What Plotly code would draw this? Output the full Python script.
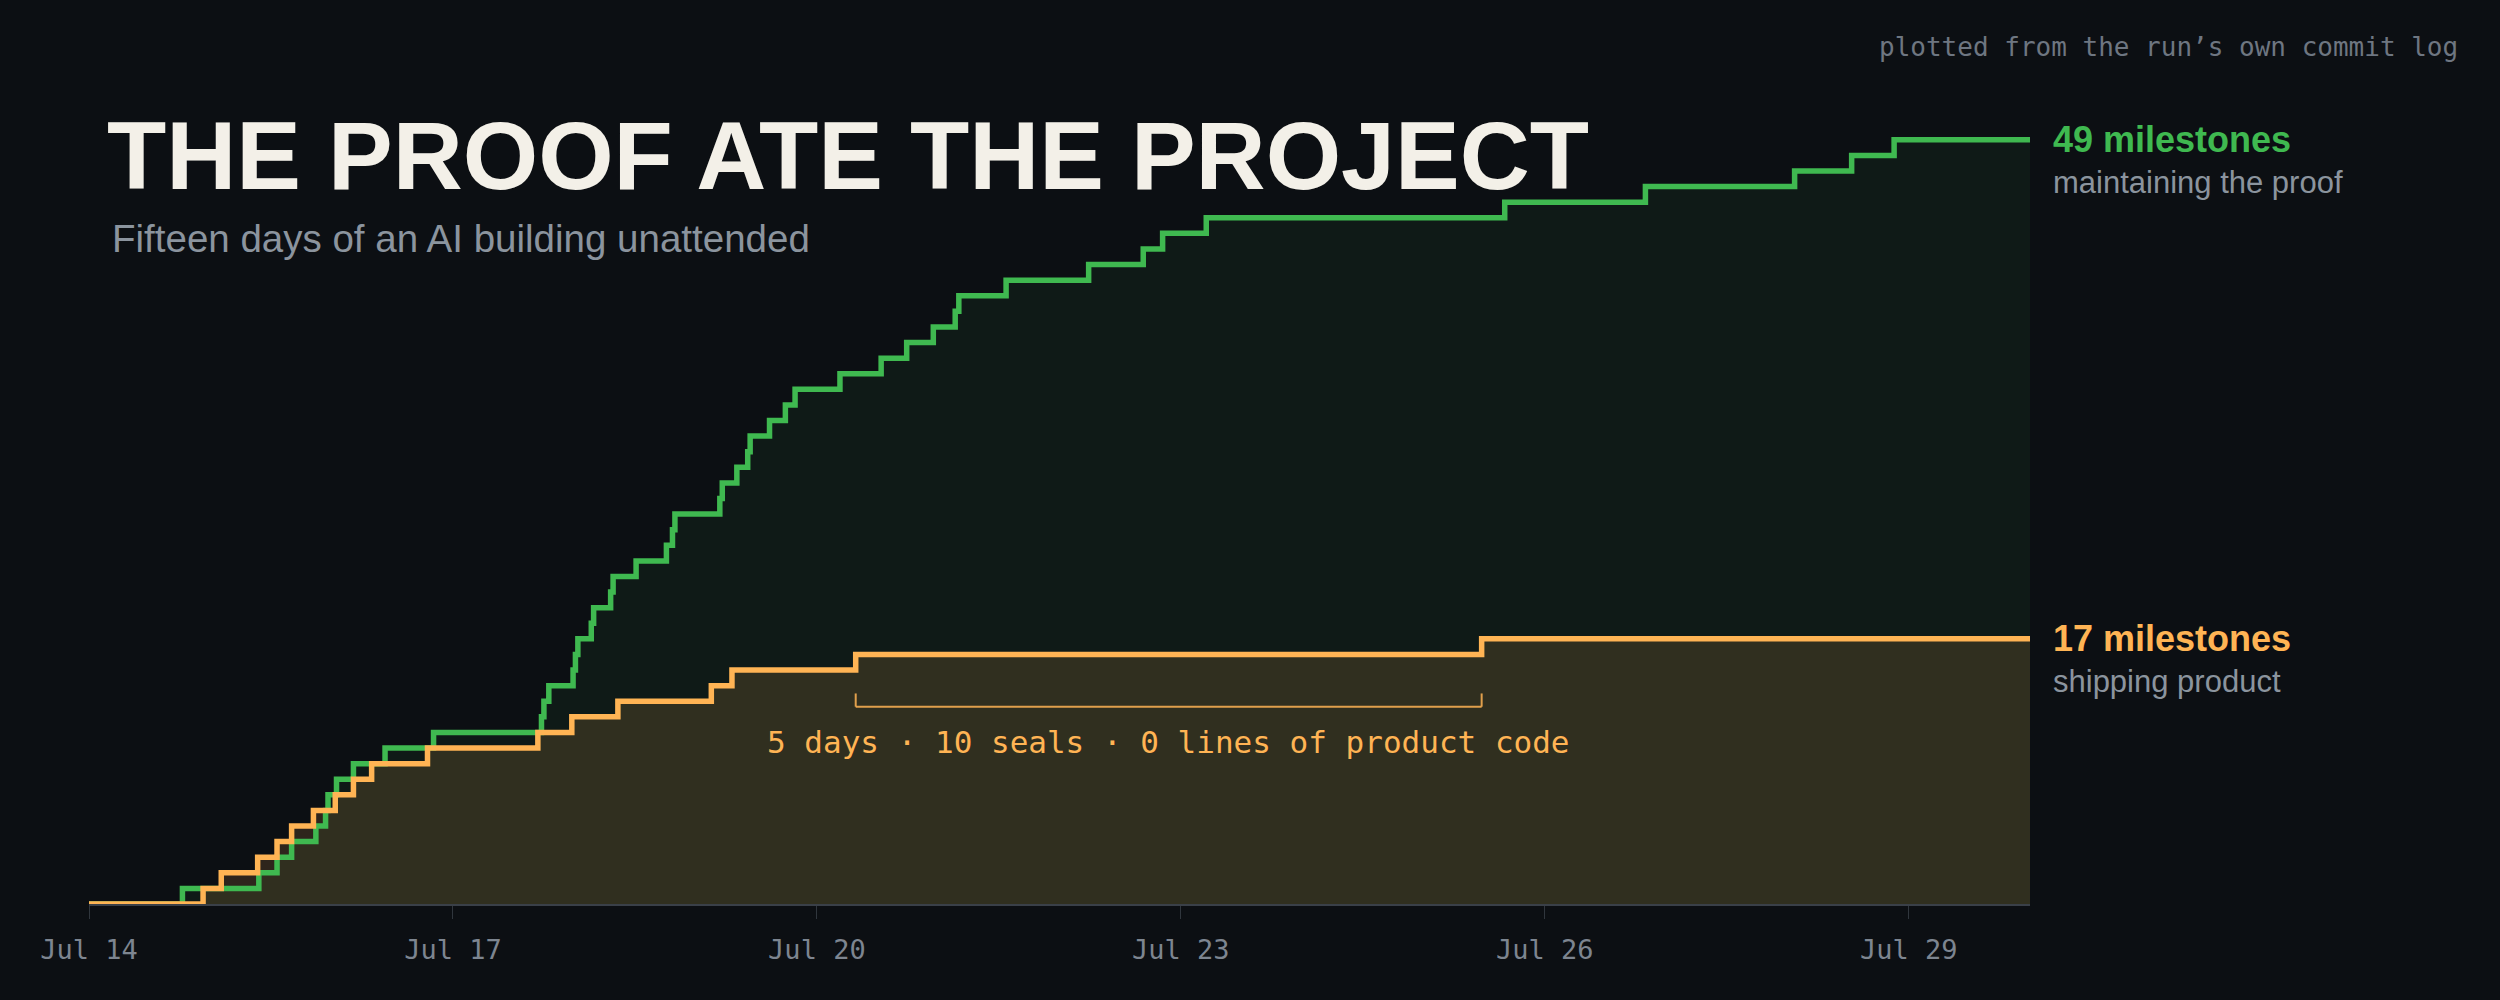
import plotly.graph_objects as go
import pandas as pd

# ---- data ----
GREEN_TIMES = [
    "2025-07-14 00:00", "2025-07-14 18:29", "2025-07-15 09:36", "2025-07-15 13:12",
    "2025-07-15 16:05", "2025-07-15 20:53", "2025-07-15 22:48", "2025-07-15 23:17",
    "2025-07-16 00:58", "2025-07-16 04:19", "2025-07-16 10:34", "2025-07-16 20:10",
    "2025-07-17 17:31", "2025-07-17 18:00", "2025-07-17 18:58", "2025-07-17 23:46",
    "2025-07-18 00:14", "2025-07-18 00:43", "2025-07-18 03:22", "2025-07-18 03:50",
    "2025-07-18 07:12", "2025-07-18 07:41", "2025-07-18 12:14", "2025-07-18 18:14",
    "2025-07-18 19:26", "2025-07-18 19:55", "2025-07-19 04:48", "2025-07-19 05:17",
    "2025-07-19 08:10", "2025-07-19 10:19", "2025-07-19 10:48", "2025-07-19 14:38",
    "2025-07-19 17:46", "2025-07-19 19:41", "2025-07-20 04:34", "2025-07-20 12:43",
    "2025-07-20 17:46", "2025-07-20 23:02", "2025-07-21 03:22", "2025-07-21 04:05",
    "2025-07-21 13:26", "2025-07-22 05:46", "2025-07-22 16:34", "2025-07-22 20:24",
    "2025-07-23 05:02", "2025-07-25 16:05", "2025-07-26 19:55", "2025-07-28 01:26",
    "2025-07-28 12:43", "2025-07-28 21:07", "2025-07-30 00:00",
]
GREEN_COUNTS = [
    0, 1, 2, 3, 4, 5, 6, 7, 8, 9, 10, 11, 12, 13, 14, 15, 16, 17, 18, 19, 20,
    21, 22, 23, 24, 25, 26, 27, 28, 29, 30, 31, 32, 33, 34, 35, 36, 37, 38, 39,
    40, 41, 42, 43, 44, 45, 46, 47, 48, 49, 49,
]

ORANGE_TIMES = [
    "2025-07-14 00:00", "2025-07-14 22:34", "2025-07-15 02:10", "2025-07-15 09:22",
    "2025-07-15 13:12", "2025-07-15 16:05", "2025-07-15 20:24", "2025-07-16 00:43",
    "2025-07-16 04:19", "2025-07-16 07:55", "2025-07-16 18:58", "2025-07-17 16:48",
    "2025-07-17 23:31", "2025-07-18 08:38", "2025-07-19 03:07", "2025-07-19 07:12",
    "2025-07-20 07:41", "2025-07-25 11:31", "2025-07-30 00:00",
]
ORANGE_COUNTS = [0, 1, 2, 3, 4, 5, 6, 7, 8, 9, 10, 11, 12, 13, 14, 15, 16, 17, 17]

TICK_DATES = ["2025-07-14", "2025-07-17", "2025-07-20", "2025-07-23", "2025-07-26", "2025-07-29"]
TICK_LABELS = ["Jul 14", "Jul 17", "Jul 20", "Jul 23", "Jul 26", "Jul 29"]
X_RANGE = ["2025-07-14 00:00", "2025-07-30 00:00"]

GREEN_NAME = "maintaining the proof"
ORANGE_NAME = "shipping product"
TITLE = "THE PROOF ATE THE PROJECT"
SUBTITLE = "Fifteen days of an AI building unattended"
NOTE = "plotted from the run\u2019s own commit log"
BRACKET_TEXT = "5 days \u00b7 10 seals \u00b7 0 lines of product code"

# ---- style ----
BG = "#0c0f13"
GREEN = "#3fb950"
ORANGE = "#ffb454"
GRAY = "#8b949e"
MONO = "DejaVu Sans Mono, Liberation Mono, monospace"
SANS = "Liberation Sans, Arial, sans-serif"

W, H = 2500, 1000
ML, MR, MT, MB = 89, 470, 93, 96
Y_MAX = 52
PW = W - ML - MR
PH = H - MT - MB
LW = 5.5


def px_x(px):
    return (px - ML) / PW


def px_y(py):
    return (H - MB - py) / PH


fig = go.Figure()

# fills (under the lines)
fig.add_trace(go.Scatter(
    x=GREEN_TIMES, y=GREEN_COUNTS, mode="lines",
    line=dict(shape="hv", width=0, color=GREEN),
    fill="tozeroy", fillcolor="rgba(63,185,80,0.07)",
    hoverinfo="skip", showlegend=False))
fig.add_trace(go.Scatter(
    x=ORANGE_TIMES, y=ORANGE_COUNTS, mode="lines",
    line=dict(shape="hv", width=0, color=ORANGE),
    fill="tozeroy", fillcolor="rgba(255,180,84,0.14)",
    hoverinfo="skip", showlegend=False))
# lines
fig.add_trace(go.Scatter(
    x=GREEN_TIMES, y=GREEN_COUNTS, mode="lines", name=GREEN_NAME,
    line=dict(shape="hv", width=LW, color=GREEN), showlegend=False))
fig.add_trace(go.Scatter(
    x=ORANGE_TIMES, y=ORANGE_COUNTS, mode="lines", name=ORANGE_NAME,
    line=dict(shape="hv", width=LW, color=ORANGE), showlegend=False))

# bracket over the last long orange plateau
b0 = ORANGE_TIMES[-3]
b1 = ORANGE_TIMES[-2]
BR_Y, BR_TOP = 12.65, 13.5
br_line = dict(color=ORANGE, width=2)
fig.add_shape(type="line", xref="x", yref="y", x0=b0, x1=b1, y0=BR_Y, y1=BR_Y, line=br_line, opacity=0.85)
fig.add_shape(type="line", xref="x", yref="y", x0=b0, x1=b0, y0=BR_Y, y1=BR_TOP, line=br_line, opacity=0.85)
fig.add_shape(type="line", xref="x", yref="y", x0=b1, x1=b1, y0=BR_Y, y1=BR_TOP, line=br_line, opacity=0.85)

mid = pd.Timestamp(b0) + (pd.Timestamp(b1) - pd.Timestamp(b0)) / 2

annotations = [
    dict(text=TITLE, xref="paper", yref="paper", x=px_x(105), y=px_y(155.5),
         xanchor="left", yanchor="middle", showarrow=False,
         font=dict(family=SANS, size=97, color="#f3f0e8", weight="bold")),
    dict(text=SUBTITLE, xref="paper", yref="paper", x=px_x(110), y=px_y(238.5),
         xanchor="left", yanchor="middle", showarrow=False,
         font=dict(family=SANS, size=38.5, color=GRAY)),
    dict(text=NOTE, xref="paper", yref="paper", x=px_x(2460), y=px_y(47),
         xanchor="right", yanchor="middle", showarrow=False,
         font=dict(family=MONO, size=26, color="#6e7681")),
    dict(text=f"{GREEN_COUNTS[-1]} milestones", xref="x", yref="y",
         x=GREEN_TIMES[-1], y=GREEN_COUNTS[-1], xanchor="left", yanchor="middle",
         xshift=21, showarrow=False,
         font=dict(family=SANS, size=36, color=GREEN, weight="bold")),
    dict(text=GREEN_NAME, xref="x", yref="y",
         x=GREEN_TIMES[-1], y=GREEN_COUNTS[-1], xanchor="left", yanchor="middle",
         xshift=21, yshift=-43, showarrow=False,
         font=dict(family=SANS, size=31, color=GRAY)),
    dict(text=f"{ORANGE_COUNTS[-1]} milestones", xref="x", yref="y",
         x=ORANGE_TIMES[-1], y=ORANGE_COUNTS[-1], xanchor="left", yanchor="middle",
         xshift=21, showarrow=False,
         font=dict(family=SANS, size=36, color=ORANGE, weight="bold")),
    dict(text=ORANGE_NAME, xref="x", yref="y",
         x=ORANGE_TIMES[-1], y=ORANGE_COUNTS[-1], xanchor="left", yanchor="middle",
         xshift=21, yshift=-43, showarrow=False,
         font=dict(family=SANS, size=31, color=GRAY)),
    dict(text=BRACKET_TEXT, xref="x", yref="y", x=mid, y=10.4,
         xanchor="center", yanchor="middle", showarrow=False,
         font=dict(family=MONO, size=31, color=ORANGE)),
]

fig.update_layout(
    width=W, height=H,
    margin=dict(l=ML, r=MR, t=MT, b=MB, pad=0),
    paper_bgcolor=BG, plot_bgcolor=BG,
    showlegend=False,
    hovermode=False,
    annotations=annotations,
    xaxis=dict(
        type="date", range=X_RANGE,
        tickmode="array", tickvals=TICK_DATES, ticktext=TICK_LABELS,
        ticks="outside", ticklen=13, tickwidth=1, tickcolor="#30363d",
        ticklabelstandoff=8,
        showgrid=False, zeroline=False,
        showline=True, linecolor="#3a4048", linewidth=2,
        layer="below traces",
        tickfont=dict(family=MONO, size=27, color="#7d8590"),
    ),
    yaxis=dict(visible=False, range=[0, Y_MAX], fixedrange=True),
)

fig.write_html(
    "out.html",
    config={"displayModeBar": False},
    post_script="document.body.style.margin='0';document.body.style.background='" + BG + "';",
)
